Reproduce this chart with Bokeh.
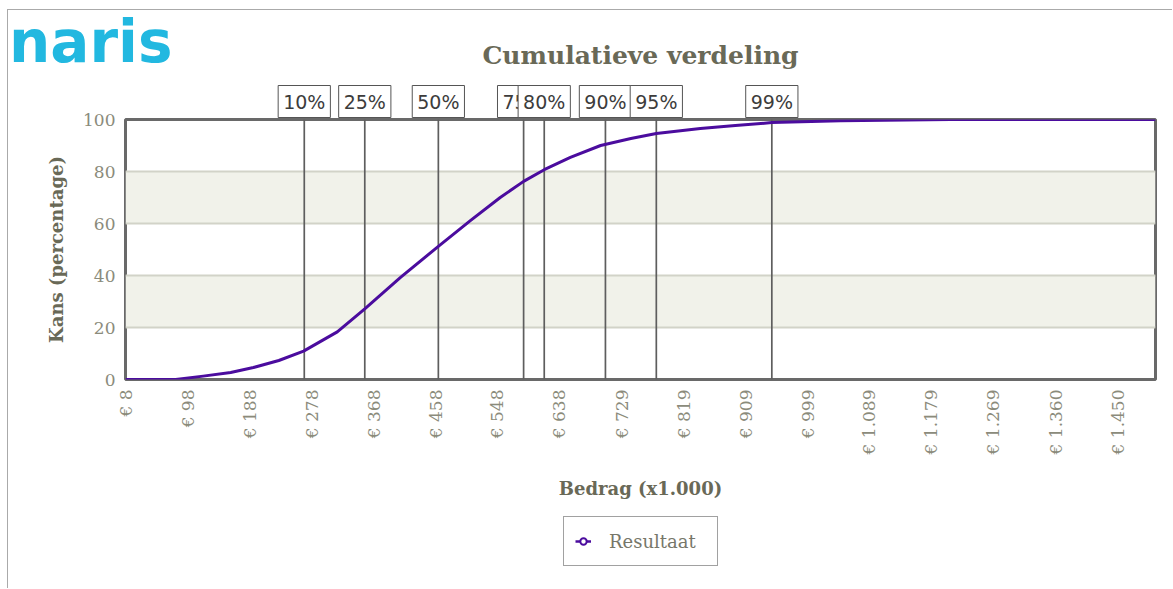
import math
from bokeh.plotting import figure
from bokeh.layouts import column
from bokeh.models import Range1d, FixedTicker, Label, Legend, LegendItem
from bokeh.embed import file_html
from bokeh.resources import INLINE

# ---- data ----
amount = [7, 80, 120, 160, 193, 230, 266, 315, 355, 407, 462, 509, 552, 586,
          616, 654, 698, 742, 779, 843, 894, 947, 1047, 1207, 1505]
cum_pct = [0, 0, 1.3, 2.7, 4.6, 7.3, 10.9, 18.3, 27.2, 39.3, 51.2, 61.2, 70.0,
           76.2, 80.7, 85.4, 90.0, 92.7, 94.6, 96.5, 97.7, 98.8, 99.5, 100, 100]

pct_labels = ["10%", "25%", "50%", "75%", "80%", "90%", "95%", "99%"]
pct_amounts = [267, 355, 462, 586, 616, 705, 779, 947]

tick_values = [8, 98, 188, 278, 368, 458, 548, 638, 729, 819, 909, 999,
               1089, 1179, 1269, 1360, 1450]
tick_labels = ["€ 8", "€ 98", "€ 188", "€ 278", "€ 368", "€ 458", "€ 548",
               "€ 638", "€ 729", "€ 819", "€ 909", "€ 999", "€ 1.089",
               "€ 1.179", "€ 1.269", "€ 1.360", "€ 1.450"]
y_ticks = [0, 20, 40, 60, 80, 100]

X_MIN, X_MAX = 7, 1505
Y_MIN, Y_MAX = 0, 100

TEXT_DARK = "#696957"
TEXT_LIGHT = "#8b8b7b"
PURPLE = "#4b0c9e"
NAN = float("nan")

# ---- page geometry (pixels) ----
W, H = 1165, 579
PX0, PY0 = 8, 10                       # canvas origin on the page
FL, FR, FT, FB = 125, 1155, 119, 379   # plot frame on the page
kx = (FR - FL) / (X_MAX - X_MIN)
ky = (FB - FT) / (Y_MAX - Y_MIN)


def dx(px):
    return X_MIN + (px - FL) / kx


def dy(py):
    return Y_MIN + (FB - py) / ky


# ================= main chart =================
p = figure(width=W, height=H,
           x_range=Range1d(X_MIN, X_MAX), y_range=Range1d(Y_MIN, Y_MAX),
           output_backend="svg", toolbar_location=None,
           min_border_left=FL - PX0, min_border_right=PX0 + W - FR,
           min_border_top=FT - PY0, min_border_bottom=PY0 + H - FB)
p.frame_align = False
p.styles = {"margin-top": "9px", "margin-left": "7px",
            "border-top": "1px solid #aaaaaa", "border-left": "1px solid #aaaaaa"}

p.outline_line_color = "#696969"
p.outline_line_width = 3
p.background_fill_color = "white"
p.border_fill_color = "white"

p.xgrid.visible = False
p.ygrid.ticker = FixedTicker(ticks=y_ticks)
p.ygrid.grid_line_color = "#d2d3c8"
p.ygrid.grid_line_width = 2
p.ygrid.band_fill_color = "#f1f2ea"
p.ygrid.band_fill_alpha = 1.0

for ax in (p.xaxis[0], p.yaxis[0]):
    ax.axis_line_color = None
    ax.major_tick_line_color = None
    ax.minor_tick_line_color = None
    ax.major_label_text_font = "DejaVu Serif"
    ax.major_label_text_font_size = "17px"
    ax.major_label_text_color = TEXT_LIGHT
    ax.axis_label_text_font = "DejaVu Serif"
    ax.axis_label_text_font_style = "bold"
    ax.axis_label_text_font_size = "18px"
    ax.axis_label_text_color = TEXT_DARK

p.xaxis.ticker = FixedTicker(ticks=tick_values)
p.xaxis.major_label_overrides = dict(zip(tick_values, tick_labels))
p.xaxis.major_label_orientation = math.pi / 2
p.xaxis.major_label_standoff = 4
p.xaxis.axis_label = "Bedrag (x1.000)"
p.xaxis.axis_label_standoff = 21

p.yaxis.ticker = FixedTicker(ticks=y_ticks)
p.yaxis.major_label_standoff = 4
p.yaxis.axis_label = "Kans (percentage)"
p.yaxis.axis_label_standoff = 13

# percentile lines
p.segment(x0=pct_amounts, y0=[Y_MIN] * len(pct_amounts), x1=pct_amounts,
          y1=[Y_MAX] * len(pct_amounts), line_color="#5e5e5e", line_width=1.7)

# cumulative curve
p.line(amount, cum_pct, line_color=PURPLE, line_width=3, line_join="round")

# ================= overlay for texts around the frame =================
o = figure(width=W, height=H,
           x_range=Range1d(dx(PX0), dx(PX0 + W)),
           y_range=Range1d(dy(PY0 + H), dy(PY0)),
           output_backend="svg", toolbar_location=None, min_border=0,
           x_axis_type=None, y_axis_type=None)
o.frame_align = False
o.styles = {"margin-top": "-580px", "margin-left": "7px",
            "border-top": "1px solid transparent", "border-left": "1px solid transparent"}
o.outline_line_color = None
o.background_fill_alpha = 0
o.border_fill_alpha = 0

# legend (its renderers hold no visible points)
leg_line = o.line(x=[NAN], y=[NAN], line_color=PURPLE, line_width=2.5)
leg_mark = o.scatter(x=[NAN], y=[NAN], marker="circle", size=10, line_color=PURPLE,
                     fill_color="white", line_width=2)
legend = Legend(items=[LegendItem(label="Resultaat", renderers=[leg_line, leg_mark])],
                location=(563 - PX0, PY0 + H - 567))
legend.label_text_font = "DejaVu Serif"
legend.label_text_font_size = "18px"
legend.label_text_color = "#77776a"
legend.border_line_color = "#444444"
legend.border_line_width = 1
legend.background_fill_color = "white"
legend.background_fill_alpha = 1
legend.padding = 11
legend.margin = 0
legend.glyph_width = 16
legend.glyph_height = 26
legend.label_standoff = 18
legend.label_width = 97
o.add_layout(legend)

# percentile label boxes
for lab, amt in zip(pct_labels, pct_amounts):
    o.add_layout(Label(x=amt, y=dy(102), text=lab, text_align="center",
                       text_baseline="middle", text_font="DejaVu Sans",
                       text_font_size="19px", text_color="#3c3c3c",
                       background_fill_color="white", background_fill_alpha=1,
                       border_line_color="#555555", border_line_width=1,
                       padding=5))

# title
o.add_layout(Label(x=(X_MIN + X_MAX) / 2, y=dy(56), text="Cumulatieve verdeling",
                   text_align="center", text_baseline="middle",
                   text_font="DejaVu Serif", text_font_style="bold",
                   text_font_size="25px", text_color=TEXT_DARK))

# logo
o.add_layout(Label(x=dx(8.5), y=dy(42), text="naris",
                   text_align="left", text_baseline="middle",
                   text_font="DejaVu Sans", text_font_style="bold",
                   text_font_size="58px", text_color="#22b8e0"))

layout = column(p, o, spacing=0)
open("out.html", "w").write(file_html(layout, INLINE))
